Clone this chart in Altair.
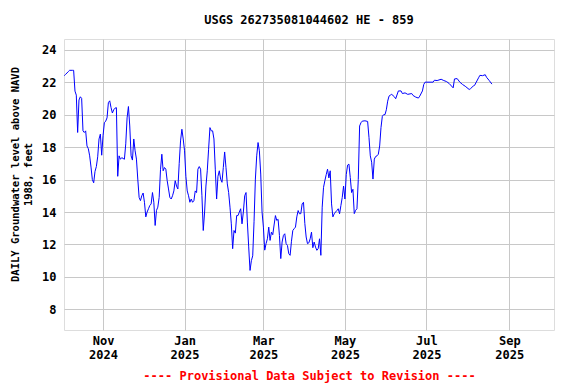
import altair as alt
import pandas as pd

# Day offsets from 2024-10-01 and daily groundwater levels (feet above NAVD 1988)
days = [2, 3, 5, 6, 8, 9, 10, 11, 12, 13, 14, 15, 16, 17, 18, 19, 20, 21, 22, 23,
        24, 25, 26, 27, 28, 29, 30, 31, 32, 33, 34, 35, 36, 37, 38, 39, 40, 41, 42, 43,
        44, 45, 46, 47, 48, 49, 50, 51, 52, 53, 54, 55, 56, 57, 58, 59, 60, 61, 62, 63,
        64, 65, 66, 67, 68, 69, 70, 71, 72, 73, 74, 75, 76, 77, 78, 79, 80, 81, 82, 83,
        84, 85, 86, 87, 88, 89, 90, 91, 92, 93, 94, 95, 96, 97, 98, 99, 100, 101, 102, 103,
        104, 105, 106, 107, 108, 109, 110, 111, 112, 113, 114, 115, 116, 117, 118, 119, 120, 121, 122, 123,
        124, 125, 126, 127, 128, 129, 130, 131, 132, 133, 134, 135, 136, 137, 138, 139, 140, 141, 142, 143,
        144, 145, 146, 147, 148, 149, 150, 151, 152, 153, 154, 155, 156, 157, 158, 159, 160, 161, 162, 163,
        164, 165, 166, 167, 168, 169, 170, 171, 172, 173, 174, 175, 176, 177, 178, 179, 180, 181, 182, 183,
        184, 185, 186, 187, 188, 189, 190, 191, 192, 193, 194, 195, 196, 197, 198, 199, 200, 201, 202, 203,
        204, 205, 206, 207, 208, 209, 210, 211, 212, 213, 214, 215, 216, 217, 218, 219, 220, 221, 222, 223,
        224, 225, 227, 229, 230, 231, 232, 233, 234, 235, 236, 237, 238, 239, 240, 241, 242, 243, 244, 245,
        246, 247, 249, 250, 252, 254, 255, 257, 259, 262, 263, 265, 267, 268, 270, 271, 272, 278, 279, 281,
        284, 286, 288, 290, 293, 294, 296, 298, 300, 302, 305, 306, 308, 309, 312, 313, 315, 317, 318, 320,
        322]
levels = [22.40, 22.48, 22.65, 22.73, 22.73, 22.73, 21.45, 21.20, 18.90, 20.90, 21.10, 21.00, 19.00, 18.90, 19.00, 18.07, 17.90, 17.46, 16.77, 16.00,
          15.80, 16.50, 16.80, 17.40, 18.50, 18.80, 17.50, 18.70, 19.50, 19.60, 19.80, 20.74, 20.85, 20.43, 20.10, 20.30, 20.40, 20.43, 16.20, 17.46,
          17.25, 17.35, 17.30, 17.25, 18.20, 19.80, 20.50, 19.30, 17.46, 17.20, 18.50, 17.77, 17.26, 16.03, 14.90, 14.70, 15.00, 15.17, 14.60, 13.70,
          14.00, 14.20, 14.40, 14.50, 15.20, 14.60, 13.17, 14.10, 14.30, 14.90, 16.60, 17.56, 16.54, 16.74, 16.64, 15.93, 15.42, 14.90, 14.80, 15.00,
          15.30, 15.93, 15.60, 15.42, 17.00, 18.38, 19.10, 18.50, 17.77, 16.20, 15.30, 15.00, 14.60, 14.80, 14.60, 14.70, 15.30, 15.20, 16.64, 16.80,
          16.64, 15.00, 12.86, 14.00, 15.60, 16.54, 17.87, 19.20, 19.00, 19.00, 18.50, 16.64, 14.80, 16.20, 16.54, 16.03, 15.83, 16.74, 17.70, 16.74,
          15.73, 15.20, 14.30, 13.27, 11.74, 12.86, 12.70, 13.78, 13.78, 14.00, 14.20, 13.27, 14.00, 15.00, 15.20, 13.38, 11.85, 10.40, 11.00, 11.30,
          13.40, 16.03, 17.46, 18.28, 17.77, 16.34, 14.00, 13.07, 11.65, 12.05, 12.35, 13.07, 12.25, 12.76, 12.60, 13.20, 13.78, 13.48, 13.55, 12.56,
          11.13, 12.15, 12.56, 12.66, 12.05, 11.94, 11.43, 11.33, 12.20, 12.86, 12.97, 13.07, 13.70, 14.09, 13.89, 13.90, 14.50, 14.60, 13.30, 12.46,
          12.05, 12.10, 12.35, 12.76, 11.80, 12.15, 11.84, 11.64, 11.74, 12.35, 11.33, 14.30, 15.52, 15.93, 16.30, 16.64, 16.10, 16.54, 14.50, 13.70,
          13.89, 14.00, 14.09, 14.20, 13.89, 14.40, 14.90, 15.60, 14.80, 16.30, 16.89, 16.95, 16.13, 15.20, 15.40, 13.90, 14.10, 14.20, 16.00, 19.30,
          19.50, 19.60, 19.62, 19.58, 18.60, 17.46, 17.07, 16.03, 17.26, 17.42, 17.46, 17.56, 18.07, 19.20, 19.90, 20.00, 20.00, 20.30, 20.83, 21.14,
          21.20, 21.25, 21.10, 20.98, 21.46, 21.46, 21.30, 21.34, 21.25, 21.30, 21.18, 21.08, 21.02, 21.14, 21.46, 21.86, 22.00, 22.00, 22.12, 22.10,
          22.18, 22.10, 22.04, 21.92, 21.65, 22.20, 22.22, 22.00, 21.86, 21.75, 21.55, 21.60, 21.76, 21.80, 22.27, 22.42, 22.40, 22.46, 22.30, 22.10,
          21.88]

y_ticks = [8, 10, 12, 14, 16, 18, 20, 22, 24]
x_ticks = [(2024, 11), (2025, 1), (2025, 3), (2025, 5), (2025, 7), (2025, 9)]

dates = (pd.Timestamp("2024-10-01") + pd.to_timedelta(days, unit="D")).strftime("%Y-%m-%d")
df = pd.DataFrame({"date": dates, "level": levels})

FONT = "DejaVu Sans Mono"

x_enc = alt.X(
    "date:T",
    scale=alt.Scale(
        type="utc",
        domain=[alt.DateTime(year=2024, month=10, date=2, hours=19, utc=True),
                alt.DateTime(year=2025, month=10, date=4, hours=11, utc=True)],
    ),
    axis=alt.Axis(
        values=[alt.DateTime(year=y, month=m, date=1, utc=True) for y, m in x_ticks],
        labelExpr="[utcFormat(datum.value, '%b'), utcFormat(datum.value, '%Y')]",
        labelFont=FONT, labelFontSize=12, labelFontWeight="bold", labelColor="black",
        labelLineHeight=14, labelPadding=5, labelBaseline="top",
        ticks=False, domain=False, grid=True, gridColor="#c8c8c8",
        title="---- Provisional Data Subject to Revision ----",
        titleColor="#ff0000", titleFont=FONT, titleFontSize=12, titleFontWeight="bold",
        titleBaseline="middle", titleY=45, titleX=245,
    ),
)
y_enc = alt.Y(
    "level:Q",
    scale=alt.Scale(domain=[6.73, 24.66], nice=False, zero=False),
    axis=alt.Axis(
        values=y_ticks, format="d",
        labelFont=FONT, labelFontSize=12, labelFontWeight="bold", labelColor="black",
        labelPadding=8, ticks=False, domain=False, grid=True, gridColor="#c8c8c8",
        title=["DAILY Groundwater level above NAVD", "1988, feet"],
        titleFont=FONT, titleFontSize=10.5, titleFontWeight="bold", titleColor="black",
        titleAngle=270, titleBaseline="middle", titleAlign="center",
        titleLineHeight=13, titleX=-49, titleY=135,
    ),
)

chart = (
    alt.Chart(df)
    .mark_line(color="#0000ff", strokeWidth=1)
    .encode(x=x_enc, y=y_enc)
    .properties(
        width=490, height=291,
        title=alt.TitleParams("USGS 262735081044602 HE - 859", font=FONT, fontSize=12,
                              fontWeight="bold", anchor="middle", offset=12, color="black"),
        autosize=alt.AutoSizeParams(type="none"),
        padding={"left": 56, "top": 31, "right": 14, "bottom": 54},
    )
    .configure_view(stroke="black", strokeWidth=1)
    .configure(background="white")
)

chart.save("out.html", embed_options={"renderer": "svg", "actions": False})
